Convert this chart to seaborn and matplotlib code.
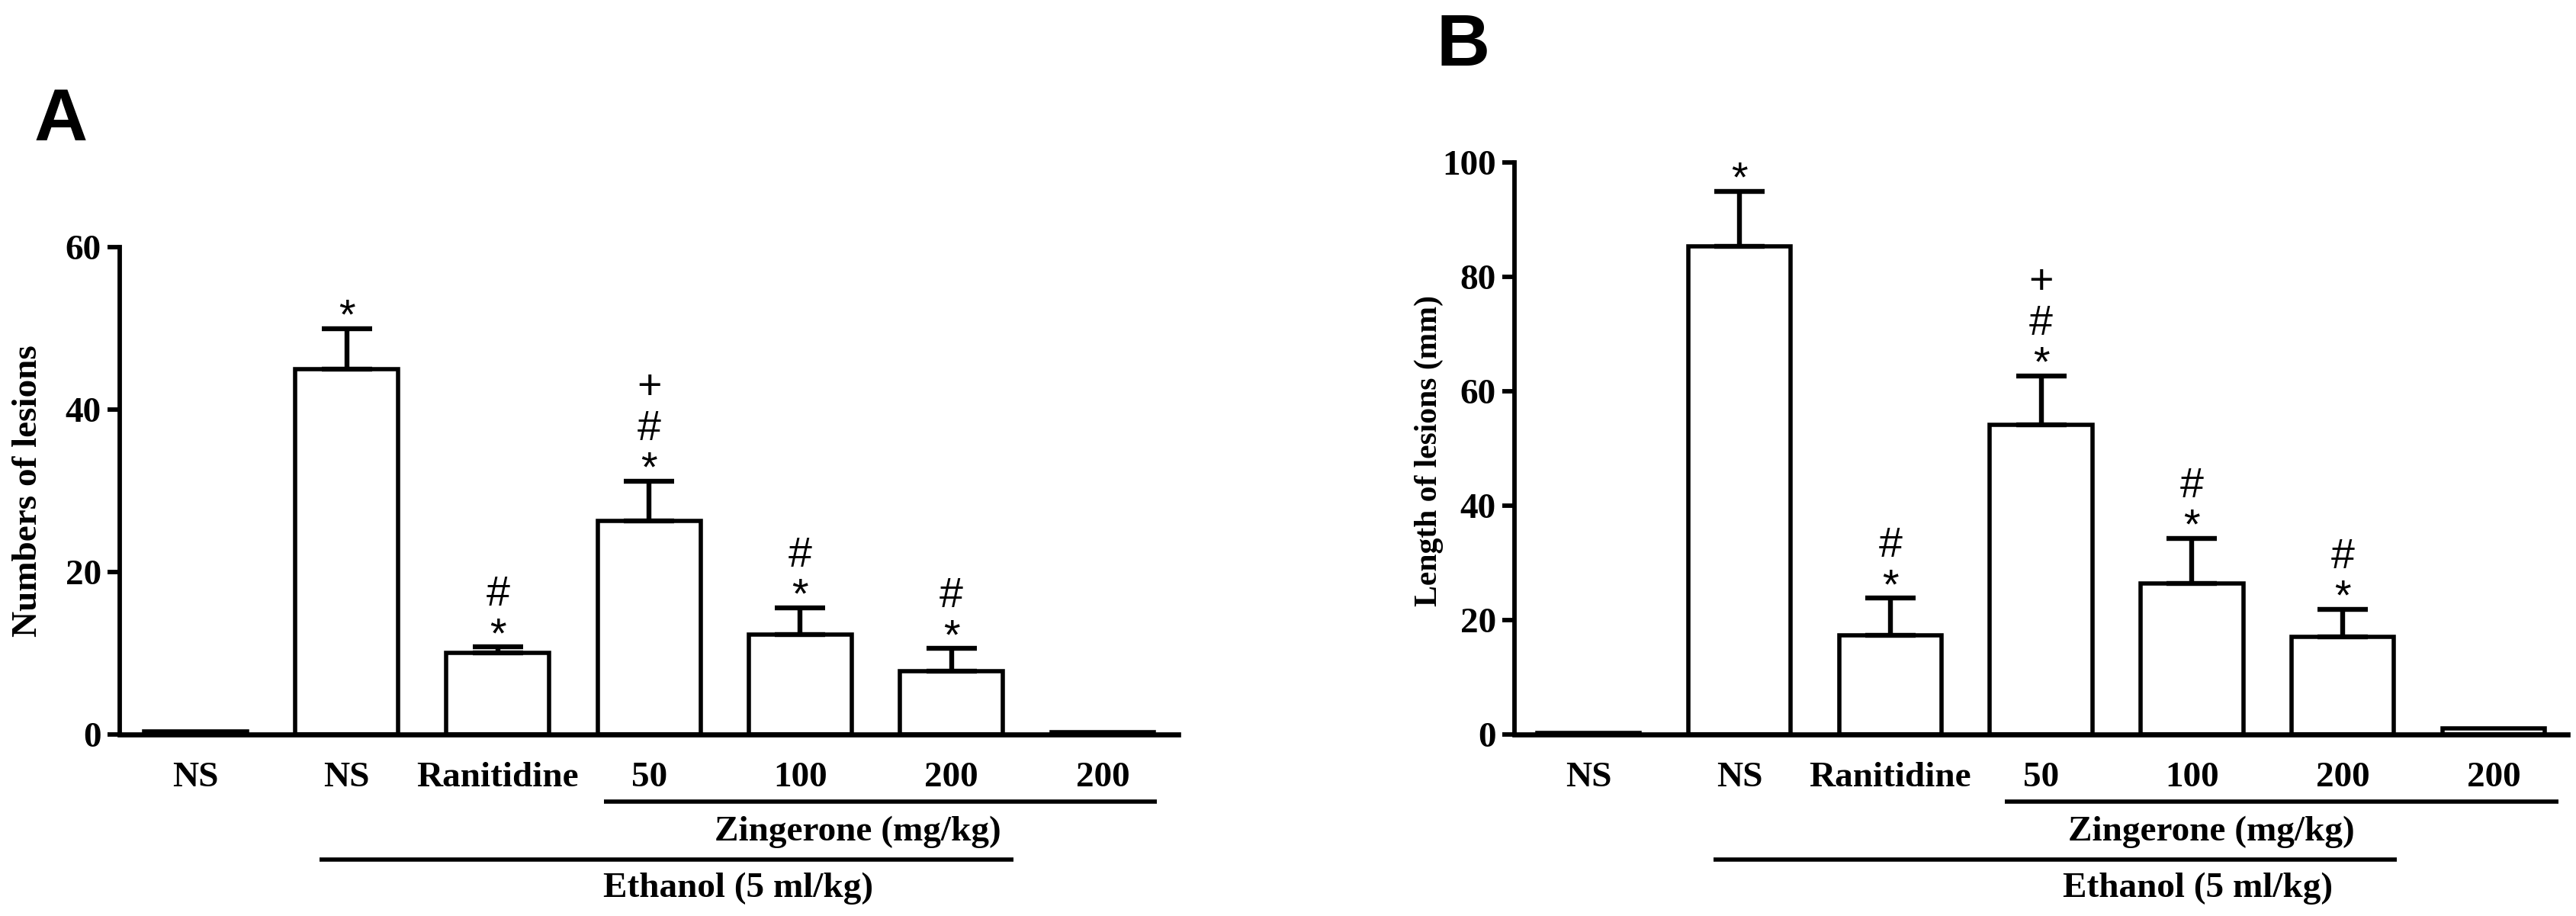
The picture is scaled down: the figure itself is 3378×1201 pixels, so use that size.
import matplotlib
matplotlib.use("Agg")
import matplotlib.pyplot as plt
import matplotlib.transforms as mtransforms
import pandas as pd
import seaborn as sns

# --------------------------
# Dados
# --------------------------
grupos = ["NS", "NS", "Ranitidine", "50", "100", "200", "200"]

# Painel A: número de lesões (média e erro)
num_lesoes = [0.4, 45.0, 10.0, 26.3, 12.3, 7.8, 0.3]
num_lesoes_erro = [0.0, 5.0, 0.8, 4.9, 3.3, 2.8, 0.0]
marcas_a = ["", "*", "*#", "*#+", "*#", "*#", ""]

# Painel B: comprimento das lesões (mm)
comp_lesoes = [0.3, 85.3, 17.3, 54.1, 26.4, 17.1, 1.0]
comp_lesoes_erro = [0.0, 9.7, 6.5, 8.6, 7.9, 4.8, 0.0]
marcas_b = ["", "*", "*#", "*#+", "*#", "*#", ""]

# --------------------------
# Estilo
# --------------------------
sns.set_style("ticks")
plt.rcParams["font.family"] = ["Liberation Serif", "DejaVu Serif"]
plt.rcParams["font.weight"] = "bold"
for chave in ["text.color", "axes.labelcolor", "xtick.color", "ytick.color",
              "axes.edgecolor"]:
    plt.rcParams[chave] = "black"

# deslocamento (pt) da linha de base de cada símbolo acima do topo do erro
desloc_marca = {"*": 0.0, "#": 19.5, "+": 38.7}


def painel(ax, fig, valores, erros, marcas, ymax, passo, xlim):
    df = pd.DataFrame({"pos": range(len(valores)), "valor": valores})
    sns.barplot(data=df, x="pos", y="valor", ax=ax, color="white",
                edgecolor="black", linewidth=2.0, width=0.68,
                errorbar=None, saturation=1)

    # barras de erro só para cima
    idx = [i for i, e in enumerate(erros) if e > 0]
    ax.errorbar(idx, [valores[i] for i in idx],
                yerr=[[0] * len(idx), [erros[i] for i in idx]],
                fmt="none", ecolor="black", elinewidth=2.3,
                capsize=12, capthick=2.3, zorder=3)

    # símbolos de significância
    for i, m in enumerate(marcas):
        topo = valores[i] + erros[i]
        for s in m:
            ax.annotate(s, xy=(i, topo), xytext=(0, desloc_marca[s]),
                        textcoords="offset points", ha="center", va="baseline",
                        fontsize=20, fontweight="normal", color="black",
                        family=["Liberation Sans", "DejaVu Sans"])

    ax.set_xlim(*xlim)
    ax.set_ylim(0, ymax)
    ax.set_yticks(range(0, ymax + 1, passo))
    ax.set_xticks(range(len(grupos)))
    ax.set_xticklabels(grupos)
    ax.set_xlabel("")
    ax.set_ylabel("")
    sns.despine(ax=ax)
    ax.spines["left"].set_linewidth(2.1)
    ax.spines["bottom"].set_linewidth(2.4)
    ax.spines["left"].set_color("black")
    ax.spines["bottom"].set_color("black")
    ax.tick_params(axis="y", length=5.8, width=2.1, pad=3, labelsize=17,
                   colors="black")
    ax.tick_params(axis="x", length=0, pad=13, labelsize=17, colors="black")
    for t in ax.get_xticklabels() + ax.get_yticklabels():
        t.set_fontweight("bold")


def grupo_linha(ax, fig, x0, x1, y, xt, yt, texto):
    tr = mtransforms.blended_transform_factory(ax.transData, fig.transFigure)
    ax.plot([x0, x1], [y, y], color="black", lw=2.0, transform=tr,
            clip_on=False, solid_capstyle="butt")
    ax.text(xt, yt, texto, transform=tr, ha="center", va="center",
            fontsize=17, fontweight="bold", color="black")


fig = plt.figure(figsize=(16.89, 6.005), dpi=200)
ax_a = fig.add_axes([0.0465, 0.1982, 0.4109, 0.532])
ax_b = fig.add_axes([0.588, 0.1982, 0.4087, 0.6244])

painel(ax_a, fig, num_lesoes, num_lesoes_erro, marcas_a, 60, 20, (-0.5, 6.5))
painel(ax_b, fig, comp_lesoes, comp_lesoes_erro, marcas_b, 100, 20, (-0.49, 6.49))

grupo_linha(ax_a, fig, 2.70, 6.36, 0.125, 4.38, 0.092, "Zingerone (mg/kg)")
grupo_linha(ax_a, fig, 0.82, 5.41, 0.062, 3.59, 0.030, "Ethanol (5 ml/kg)")
grupo_linha(ax_b, fig, 2.76, 6.43, 0.125, 4.13, 0.092, "Zingerone (mg/kg)")
grupo_linha(ax_b, fig, 0.83, 5.36, 0.062, 4.04, 0.030, "Ethanol (5 ml/kg)")

fig.text(0.011, 0.464, "Numbers of lesions", rotation=90, ha="center",
         va="center", fontsize=17, fontweight="bold", color="black")
fig.text(0.5548, 0.508, "Length of lesions (mm)", rotation=90, ha="center",
         va="center", fontsize=15, fontweight="bold", color="black")

fig.text(0.0133, 0.847, "A", family=["Liberation Sans", "DejaVu Sans"],
         fontsize=35, fontweight="bold", va="baseline", ha="left",
         color="black")
fig.text(0.5577, 0.928, "B", family=["Liberation Sans", "DejaVu Sans"],
         fontsize=35, fontweight="bold", va="baseline", ha="left",
         color="black")

fig.savefig("out.png", dpi=200, facecolor="white")
plt.close(fig)
